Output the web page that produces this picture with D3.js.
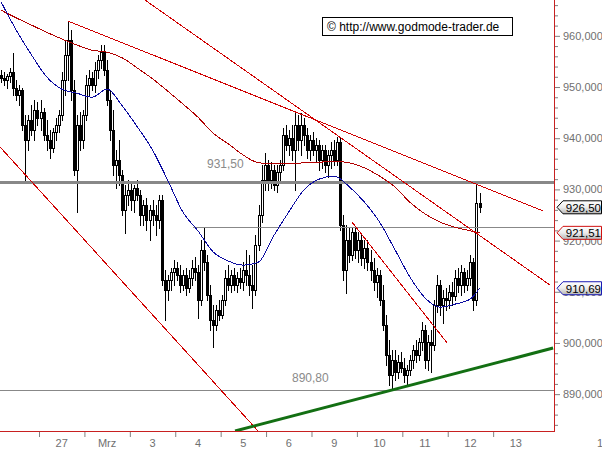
<!DOCTYPE html>
<html><head><meta charset="utf-8">
<script src="https://cdn.jsdelivr.net/npm/d3@7"></script>
<style>body{margin:0;background:#fff}svg{display:block}</style>
</head><body>
<svg id="c" width="602" height="451"></svg>
<script>
// ---------------- DATA ----------------
const dayLabels = ["26","27","Mrz","3","4","5","6","9","10","11","12","13"];
const barsPerDay = 15, firstSlot = 2;

const open = [952.3,951.8,951.4,952.1,952.9,949.8,948.4,949.4,942.6,939.6,943.6,941.6,945.5,943.9,945.1,940.6,939.6,938.1,941.2,942.6,
944.5,951.4,956.3,959.2,949.4,933.8,942.6,939.6,944.5,950.4,951.8,950.4,953.3,955.3,956.8,953.3,947.5,941.6,934.8,935.7,
932.8,926.0,928.9,929.9,927.9,930.3,928.9,925.0,926.9,924.0,926.0,925.0,924.0,927.9,912.3,910.3,912.3,913.9,914.6,913.3,
911.3,913.3,910.7,912.7,914.6,913.9,908.4,918.2,915.8,909.4,904.5,903.5,906.4,905.4,908.4,912.7,911.3,913.3,911.3,912.7,
911.9,914.2,913.3,911.3,910.3,919.1,925.0,931.8,934.8,931.8,933.8,930.9,933.4,934.8,940.6,938.7,940.0,937.7,942.6,939.6,
942.6,940.6,937.7,939.6,937.7,938.7,935.7,937.7,934.8,936.7,937.7,935.7,939.3,923.0,914.2,920.1,917.2,921.7,918.2,920.1,
916.6,918.5,915.8,914.2,911.9,913.3,908.4,903.5,897.6,893.7,896.7,894.3,896.3,895.1,893.7,894.7,896.7,898.6,897.6,900.2,
902.5,896.7,900.2,899.6,907.4,911.3,907.4,908.8,908.4,909.9,909.2,912.7,911.3,913.9,911.3,912.7,915.8,908.4,927.3];
const high = [953.3,952.9,952.5,953.7,956.6,951.4,950.4,949.8,944.5,944.5,946.5,947.5,947.1,947.5,945.9,943.6,941.6,942.0,943.9,945.5,
952.9,959.2,962.9,961.1,951.4,944.5,945.1,945.5,952.3,953.3,952.9,954.9,956.3,958.2,958.2,955.3,949.4,945.5,937.7,939.6,
933.8,930.9,931.8,931.4,930.9,931.8,929.9,927.9,928.3,926.9,927.9,926.9,928.9,928.9,914.2,913.3,914.6,916.2,915.8,915.2,
914.2,914.6,914.2,916.2,916.8,915.2,920.1,922.6,917.2,911.3,907.4,907.4,908.4,909.4,914.2,915.2,914.2,914.6,913.9,914.6,
915.8,918.2,917.2,915.2,921.1,926.9,934.8,937.1,935.7,935.3,934.8,934.8,935.7,942.0,942.6,941.6,942.6,944.9,944.5,944.9,
943.9,942.0,940.6,941.2,940.0,939.6,938.7,938.7,937.7,939.3,939.6,940.2,940.2,925.0,923.0,922.4,922.6,922.4,921.7,921.1,
920.1,920.1,918.2,916.6,914.6,914.2,911.3,905.4,900.6,898.6,898.6,897.6,898.2,897.0,895.7,897.6,899.6,900.6,901.0,904.1,
903.5,901.5,902.5,908.4,913.3,912.3,910.3,910.7,911.3,911.9,914.2,914.6,915.2,914.6,914.2,917.2,916.6,930.9,929.3];
const low = [951.0,950.4,949.8,951.0,948.4,947.5,946.5,941.6,931.2,937.7,940.6,939.6,942.6,941.6,939.6,937.7,936.1,937.3,939.6,941.2,
943.6,948.4,951.4,947.5,932.8,925.6,937.7,938.1,943.6,948.4,949.4,949.0,951.8,953.7,952.3,946.5,939.6,932.8,930.3,930.9,
925.0,921.5,926.9,926.0,925.6,927.9,923.0,923.0,922.1,920.1,923.0,921.1,922.4,911.3,904.5,908.4,910.3,911.3,912.3,909.9,
910.3,909.4,909.9,911.3,912.3,904.9,907.4,914.2,908.4,902.5,899.2,902.5,904.5,904.9,907.4,910.3,909.9,910.3,909.9,910.7,
910.3,911.3,909.4,906.8,909.4,918.2,923.6,929.9,929.9,930.3,929.9,929.5,931.4,933.8,937.7,936.7,935.7,929.9,937.7,936.7,
938.7,936.1,935.7,936.7,935.3,933.8,934.2,933.4,932.4,934.2,934.8,934.8,922.1,912.3,909.7,915.8,916.2,916.6,915.8,915.2,
914.6,914.2,912.3,910.3,909.0,907.4,902.5,895.7,891.8,890.8,892.7,893.1,894.3,892.4,891.8,893.7,895.1,896.3,896.7,898.6,
895.1,894.7,894.3,898.6,906.0,905.4,903.9,906.4,906.8,907.4,908.4,909.9,909.4,909.9,910.3,911.3,906.4,907.4,925.6];
const close = [951.8,951.4,952.1,952.9,949.8,948.4,949.4,942.6,939.6,943.6,941.6,945.5,943.9,945.1,940.6,939.6,938.1,941.2,942.6,944.5,
951.4,956.3,959.2,949.4,933.8,942.6,939.6,944.5,950.4,951.8,950.4,953.3,955.3,956.8,953.3,947.5,941.6,934.8,935.7,932.8,
926.0,928.9,929.9,927.9,930.3,928.9,925.0,926.9,924.0,926.0,925.0,924.0,927.9,912.3,910.3,912.3,913.9,914.6,913.3,911.3,
913.3,910.7,912.7,914.6,913.9,908.4,918.2,915.8,909.4,904.5,903.5,906.4,905.4,908.4,912.7,911.3,913.3,911.3,912.7,911.9,
914.2,913.3,911.3,910.3,919.1,925.0,931.8,934.8,931.8,933.8,930.9,933.4,934.8,940.6,938.7,940.0,937.7,942.6,939.6,942.6,
940.6,937.7,939.6,937.7,938.7,935.7,937.7,934.8,936.7,937.7,935.7,939.3,923.0,914.2,920.1,917.2,921.7,918.2,920.1,916.6,
918.5,915.8,914.2,911.9,913.3,908.4,903.5,897.6,893.7,896.7,894.3,896.3,895.1,893.7,894.7,896.7,898.6,897.6,900.2,902.5,
896.7,900.2,899.6,907.4,911.3,907.4,908.8,908.4,909.9,909.2,912.7,911.3,913.9,911.3,912.7,915.8,908.4,927.3,926.5];

const maIndex = [0,5,10,15,20,25,30,35,40,45,50,55,60,65,70,75,80,85,90,95,100,105,110,115,120,125,130,135,140,145,150,155,158];
const maBlue = [966.6,961.1,956.3,952.0,949.6,948.8,948.0,949.6,946.3,942.2,937.7,931.8,925.6,921.9,917.8,916.0,915.2,915.8,920.9,925.6,
929.9,932.0,932.6,930.5,927.5,923.6,918.3,912.9,908.8,907.0,907.6,908.6,910.69];
const maRed = [965.0,963.5,962.1,960.7,959.4,958.2,957.2,956.8,955.7,953.7,951.6,949.2,946.7,944.1,941.0,938.9,936.7,935.2,935.0,935.0,
935.2,935.3,935.5,935.2,934.2,932.6,930.5,927.5,925.2,923.6,922.6,921.9,921.51];

// trend lines: [barIndex, price] pairs
const trendRed = [
  [[22, 962.9], [179, 925.8]],
  [[47.5, 967.0], [181.3, 911.3]],
  [[-0.38, 938.3], [84.85, 882.8]],
  [[115.9, 923.6], [147.3, 900.0]]
];
const trendGreen = [[77.25, 882.8], [182.3, 899.0]];

const levelThick = 931.50, levelLow = 890.80, levelMid = 922.6, levelMidStart = 63.4;
const lastValues = [926.50, 921.51, 910.69];
const yMajor = [890,900,910,920,930,940,950,960];
const copyright = "\u00A9 http://www.godmode-trader.de";

// ---------------- CHART ----------------
const svg = d3.select("#c");
const W = 554, H = 431;
const x = d3.scaleLinear().domain([-0.383, 182.6]).range([0, W]);
const y = d3.scaleLinear().domain([882.8, 967.0]).range([H, 0]);
const fmtAxis = d => d3.format(".3f")(d).replace(".", ",");
const fmt2 = d => d3.format(".2f")(d).replace(".", ",");
const FONT = "'Liberation Sans', Arial, sans-serif";

svg.append("defs").html(`
 <clipPath id="clip"><rect x="0" y="0" width="${W}" height="${H}"/></clipPath>
 <linearGradient id="gbox" x1="0" y1="0" x2="0" y2="1">
   <stop offset="0" stop-color="#ffffff"/><stop offset="0.5" stop-color="#ececec"/><stop offset="1" stop-color="#b4b4b4"/>
 </linearGradient>`);

const plot = svg.append("g").attr("clip-path", "url(#clip)");

// candles
const bars = d3.range(close.length);
const cg = plot.append("g").attr("shape-rendering", "crispEdges");
bars.forEach(i => {
  const cx = Math.round(x(i));
  cg.append("line").attr("x1", cx + 0.5).attr("x2", cx + 0.5)
    .attr("y1", Math.round(y(high[i]))).attr("y2", Math.round(y(low[i])) + 1)
    .attr("stroke", "#000");
  const yt = Math.round(y(Math.max(open[i], close[i])));
  const yb = Math.round(y(Math.min(open[i], close[i])));
  const up = close[i] >= open[i];
  cg.append("rect").attr("x", cx - 0.5).attr("y", yt + 0.5)
    .attr("width", 2).attr("height", Math.max(yb - yt, 0))
    .attr("fill", up ? "#fff" : "#000").attr("stroke", "#000");
});

// horizontal levels
const lv = plot.append("g").attr("shape-rendering", "crispEdges");
lv.append("line").attr("x1", 0).attr("x2", W).attr("y1", Math.round(y(levelThick)) + 0.5).attr("y2", Math.round(y(levelThick)) + 0.5)
  .attr("stroke", "#888").attr("stroke-width", 3);
lv.append("line").attr("x1", x(levelMidStart)).attr("x2", W).attr("y1", Math.round(y(levelMid)) + 0.5).attr("y2", Math.round(y(levelMid)) + 0.5)
  .attr("stroke", "#888").attr("stroke-width", 1);
lv.append("line").attr("x1", 0).attr("x2", W).attr("y1", Math.round(y(levelLow)) + 0.5).attr("y2", Math.round(y(levelLow)) + 0.5)
  .attr("stroke", "#888").attr("stroke-width", 1);

// moving averages
const maLine = d3.line().x((d, k) => x(maIndex[k])).y(d => y(d)).curve(d3.curveMonotoneX);
plot.append("path").attr("d", maLine(maRed)).attr("fill", "none").attr("stroke", "#b00000").attr("stroke-width", 1)
  .attr("shape-rendering", "crispEdges");
plot.append("path").attr("d", maLine(maBlue)).attr("fill", "none").attr("stroke", "#0c0ca0").attr("stroke-width", 1)
  .attr("shape-rendering", "crispEdges");

// trend lines
const tl = d3.line().x(d => x(d[0])).y(d => y(d[1]));
trendRed.forEach(t => plot.append("path").attr("d", tl(t)).attr("fill", "none").attr("stroke", "#d00000").attr("stroke-width", 1)
  .attr("shape-rendering", "crispEdges"));
plot.append("path").attr("d", tl(trendGreen)).attr("fill", "none").attr("stroke", "#136f13").attr("stroke-width", 3);

// level labels
svg.append("text").attr("x", 207).attr("y", 168).text(fmt2(levelThick))
  .attr("font-family", FONT).attr("font-size", 12).attr("fill", "#8a8a8a");
svg.append("text").attr("x", 292).attr("y", 382).text(fmt2(levelLow))
  .attr("font-family", FONT).attr("font-size", 12).attr("fill", "#8a8a8a");

// frame (red)
const fr = svg.append("g").attr("shape-rendering", "crispEdges");
fr.append("line").attr("x1", 0).attr("x2", W + 0.5).attr("y1", H + 0.5).attr("y2", H + 0.5).attr("stroke", "#c82020");
fr.append("line").attr("x1", W + 0.5).attr("x2", W + 0.5).attr("y1", 0).attr("y2", H + 0.5).attr("stroke", "#c82020");

// right axis
const yMinor = d3.range(884, 968, 2).filter(v => !yMajor.includes(v));
const axMinor = d3.axisRight(y).tickValues(yMinor).tickSize(3).tickFormat("");
const axMajor = d3.axisRight(y).tickValues(yMajor).tickSize(5).tickPadding(3).tickFormat(fmtAxis);
const gMinor = svg.append("g").attr("transform", `translate(${W + 1},0)`).call(axMinor);
const gMajor = svg.append("g").attr("transform", `translate(${W + 1},0)`).call(axMajor);
[gMinor, gMajor].forEach(g => {
  g.select(".domain").remove();
  g.selectAll("line").attr("stroke", "#808080");
  g.selectAll("text").attr("font-family", FONT).attr("font-size", 11).attr("fill", "#707070");
});

// bottom axis: day boundaries and labels between
const boundaries = d3.range(1, 12).map(k => k * barsPerDay - firstSlot - 0.5);
const axX = d3.axisBottom(x).tickValues(boundaries).tickSize(5).tickFormat("");
const gX = svg.append("g").attr("transform", `translate(0,${H + 1})`).call(axX);
gX.select(".domain").remove();
gX.selectAll("line").attr("stroke", "#808080");
dayLabels.forEach((lab, k) => {
  if (k === 0) return;
  const c = k * barsPerDay - firstSlot + barsPerDay / 2 - 0.5;
  svg.append("text").attr("x", x(c)).attr("y", 447).attr("text-anchor", "middle").text(lab)
    .attr("font-family", FONT).attr("font-size", 11).attr("fill", "#707070");
});
svg.append("text").attr("x", 597).attr("y", 447).text("1")
  .attr("font-family", FONT).attr("font-size", 11).attr("fill", "#707070");

// last value callouts
const calloutColors = ["#000000", "#d01010", "#1a1ab4"];
lastValues.forEach((v, k) => {
  const cy = y(v);
  const g = svg.append("g");
  g.append("path")
    .attr("d", `M${W + 3},${cy} L${W + 9},${cy - 6.5} L601.5,${cy - 6.5} L601.5,${cy + 6.5} L${W + 9},${cy + 6.5} Z`)
    .attr("fill", "url(#gbox)").attr("stroke", calloutColors[k]).attr("stroke-width", 1);
  g.append("text").attr("x", 601).attr("y", cy + 4.5).attr("text-anchor", "end").text(fmt2(v))
    .attr("font-family", FONT).attr("font-size", 11.5).attr("fill", "#000");
});

// copyright box
svg.append("rect").attr("x", 322.5).attr("y", 17.5).attr("width", 190).attr("height", 18)
  .attr("fill", "#fff").attr("stroke", "#000");
svg.append("text").attr("x", 327).attr("y", 31).text(copyright)
  .attr("font-family", FONT).attr("font-size", 12).attr("fill", "#000");
</script>
</body></html>
